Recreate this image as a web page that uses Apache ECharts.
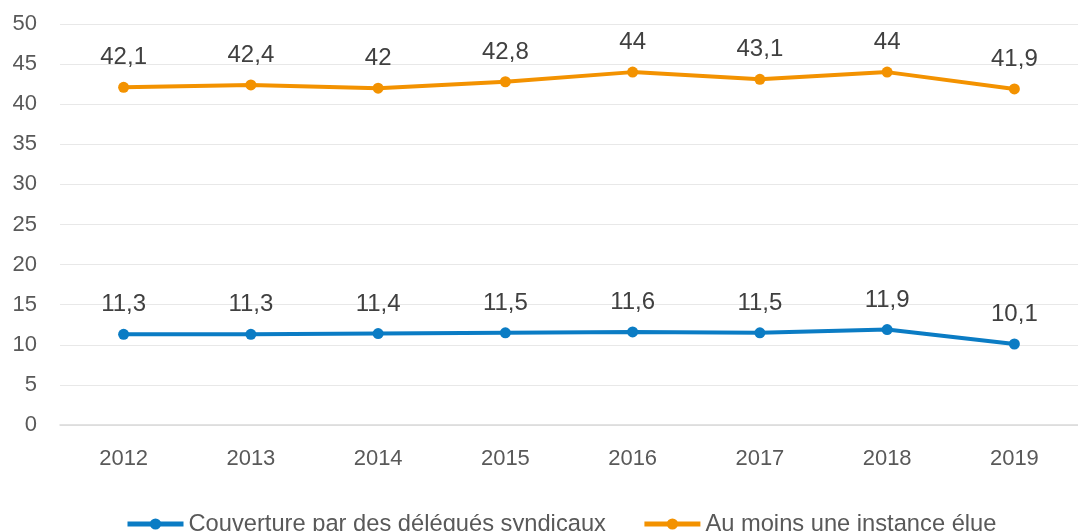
<!DOCTYPE html>
<html lang="fr">
<head>
    <meta charset="UTF-8">
    <title>Couverture syndicale</title>
    <script src="https://cdn.jsdelivr.net/npm/echarts@6/dist/echarts.min.js"></script>
    <style>
        html, body { margin: 0; padding: 0; background: #fff; }
        #chart { width: 1078px; height: 531px; }
    </style>
</head>
<body>
<div id="chart"></div>
<script type="text/javascript">
    // données
    var years = ['2012', '2013', '2014', '2015', '2016', '2017', '2018', '2019'];
    var delegues = [11.3, 11.3, 11.4, 11.5, 11.6, 11.5, 11.9, 10.1];
    var instance = [42.1, 42.4, 42, 42.8, 44, 43.1, 44, 41.9];
    var seriesNames = ['Couverture par des délégués syndicaux', 'Au moins une instance élue'];

    var myChart = echarts.init(document.getElementById('chart'));

    function frLabel(p) {
        return String(p.value).replace('.', ',');
    }

    function makeSeries(name, data, color) {
        return {
            name: name,
            type: 'line',
            data: data,
            symbol: 'circle',
            symbolSize: 11,
            lineStyle: { width: 4, color: color },
            itemStyle: { color: color },
            label: {
                show: true,
                position: 'top',
                distance: 12,
                formatter: frLabel,
                color: '#404040',
                fontSize: 24,
                fontFamily: 'Liberation Sans'
            }
        };
    }

    var option = {
        animation: false,
        textStyle: { fontFamily: 'Liberation Sans' },
        grid: { left: 60, width: 1033, top: 24, bottom: 106 },
        legend: {
            top: 507,
            left: 120,
            itemGap: 36,
            itemWidth: 56,
            itemHeight: 14,
            lineStyle: { width: 5 },
            data: seriesNames,
            textStyle: { fontSize: 23.7, color: '#595959' }
        },
        xAxis: {
            type: 'category',
            data: years,
            boundaryGap: true,
            axisLine: { lineStyle: { color: '#d9d9d9', width: 1.5 } },
            axisTick: { show: false },
            axisLabel: { fontSize: 22, color: '#595959', margin: 23 }
        },
        yAxis: {
            type: 'value',
            min: 0,
            max: 50,
            interval: 5,
            axisLine: { show: false },
            axisTick: { show: false },
            axisLabel: { fontSize: 22, color: '#595959', margin: 23 },
            splitLine: { lineStyle: { color: '#e8e8e8' } }
        },
        series: [
            makeSeries(seriesNames[0], delegues, '#0b7cc4'),
            makeSeries(seriesNames[1], instance, '#f39200')
        ]
    };

    myChart.setOption(option);
</script>
</body>
</html>
